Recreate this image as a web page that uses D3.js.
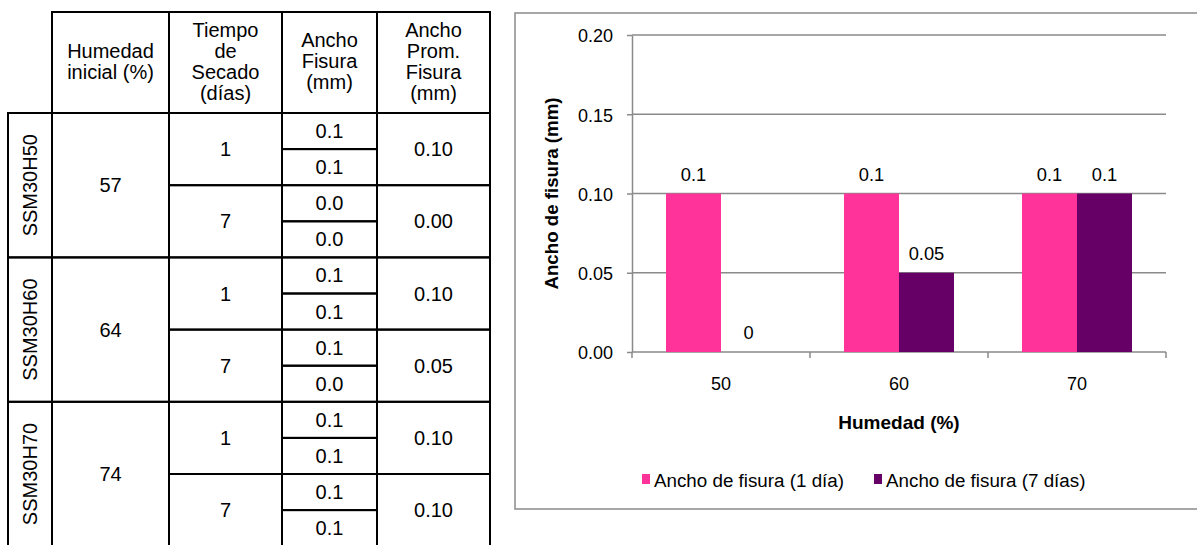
<!DOCTYPE html>
<html>
<head>
<meta charset="utf-8">
<script src="https://cdn.jsdelivr.net/npm/d3@7"></script>
<style>
  body { margin: 0; background: #fff; }
  svg { display: block; font-family: "Liberation Sans", Arial, sans-serif; }
</style>
</head>
<body>
<div class="layout"></div>
<script>
// ---- table data ----
var muestras = ["SSM30H50", "SSM30H60", "SSM30H70"];
var humedadInicial = ["57", "64", "74"];
var tiempoSecado = ["1", "7"];
var anchoFisura = [
  ["0.1", "0.1", "0.0", "0.0"],
  ["0.1", "0.1", "0.1", "0.0"],
  ["0.1", "0.1", "0.1", "0.1"]
];
var anchoProm = [
  ["0.10", "0.00"],
  ["0.10", "0.05"],
  ["0.10", "0.10"]
];
var encabezados = [
  ["Humedad", "inicial (%)"],
  ["Tiempo", "de", "Secado", "(días)"],
  ["Ancho", "Fisura", "(mm)"],
  ["Ancho", "Prom.", "Fisura", "(mm)"]
];

// ---- chart data ----
var humedad = ["50", "60", "70"];
var series = ["Ancho de fisura (1 día)", "Ancho de fisura (7 días)"];
var ancho1dia = [0.1, 0.1, 0.1];
var ancho7dias = [0, 0.05, 0.1];
var yTicks = [0, 0.05, 0.10, 0.15, 0.20];

var colors = ["#ff3399", "#660066"];

var svg = d3.select(".layout").append("svg")
    .attr("width", 1197)
    .attr("height", 545);

// ================= TABLE =================
var colX = [8, 52, 169, 282, 377, 490];
var headTop = 12, bodyTop = 113, rowH = 36.1;
var row = d3.scaleLinear().domain([0, 1]).range([bodyTop, bodyTop + rowH]);
var tfs = 20;

var table = svg.append("g").attr("class", "table");

function cell(c0, c1, r0, r1) {
  table.append("rect")
      .attr("x", colX[c0]).attr("y", r0)
      .attr("width", colX[c1] - colX[c0]).attr("height", r1 - r0)
      .attr("fill", "none").attr("stroke", "#000").attr("stroke-width", 2);
}
function label(txt, c, r0, r1) {
  table.append("text")
      .attr("x", (colX[c] + colX[c + 1]) / 2)
      .attr("y", (r0 + r1) / 2 + 7)
      .attr("text-anchor", "middle")
      .attr("font-size", tfs)
      .text(txt);
}

// header
encabezados.forEach(function(lines, i) {
  var c = i + 1;
  cell(c, c + 1, headTop, bodyTop);
  var lh = 21, mid = 61;
  var t = table.append("text")
      .attr("text-anchor", "middle")
      .attr("font-size", tfs);
  lines.forEach(function(s, j) {
    t.append("tspan")
        .attr("x", (colX[c] + colX[c + 1]) / 2)
        .attr("y", mid + (j - (lines.length - 1) / 2) * lh + 7)
        .text(s);
  });
});

// body
muestras.forEach(function(m, b) {
  var r0 = row(b * 4), r1 = row(b * 4 + 4);
  cell(0, 1, r0, r1);
  cell(1, 2, r0, r1);
  table.append("text")
      .attr("transform", "translate(" + (colX[0] + colX[1]) / 2 + "," + (r0 + r1) / 2 + ") rotate(-90)")
      .attr("text-anchor", "middle")
      .attr("dy", "0.36em")
      .attr("font-size", tfs)
      .text(m);
  label(humedadInicial[b], 1, r0, r1);

  tiempoSecado.forEach(function(t, k) {
    var s0 = row(b * 4 + k * 2), s1 = row(b * 4 + k * 2 + 2);
    cell(2, 3, s0, s1);
    cell(4, 5, s0, s1);
    label(t, 2, s0, s1);
    label(anchoProm[b][k], 4, s0, s1);
  });

  anchoFisura[b].forEach(function(v, k) {
    var q0 = row(b * 4 + k), q1 = row(b * 4 + k + 1);
    cell(3, 4, q0, q1);
    label(v, 3, q0, q1);
  });
});

// ================= CHART =================
var grey = "#8a8a8a";
svg.append("rect")
    .attr("x", 515).attr("y", 13)
    .attr("width", 700).attr("height", 496)
    .attr("fill", "none").attr("stroke", grey).attr("stroke-width", 1.5);

var margin = {left: 632, top: 35},
    width = 534,
    height = 317;

var g = svg.append("g")
    .attr("transform", "translate(" + margin.left + "," + margin.top + ")");

var x0 = d3.scaleBand().domain(humedad).range([0, width]).padding(0);
var x1 = d3.scaleBand().domain(series).range([0, x0.bandwidth()])
    .paddingInner(0).paddingOuter(0.618);
var y = d3.scaleLinear().domain([0, 0.2]).range([height, 0]);

// gridlines
g.append("g").selectAll("line")
    .data(yTicks)
    .join("line")
    .attr("x1", 0).attr("x2", width)
    .attr("y1", function(d) { return y(d); })
    .attr("y2", function(d) { return y(d); })
    .attr("stroke", grey).attr("stroke-width", 1.5);

// y axis
var yAxis = d3.axisLeft(y)
    .tickValues(yTicks)
    .tickFormat(d3.format(".2f"))
    .tickSizeInner(5)
    .tickSizeOuter(0)
    .tickPadding(14);
var ya = g.append("g").attr("class", "y axis").call(yAxis);
ya.select(".domain").attr("stroke", grey).attr("stroke-width", 1.5);
ya.selectAll(".tick line").attr("stroke", grey).attr("stroke-width", 1.5);
ya.selectAll(".tick text")
    .attr("font-size", 18)
    .attr("font-family", "Liberation Sans, Arial, sans-serif")
    .attr("fill", "#000")
    .attr("dy", "0.38em");

// x axis: labels at centres, ticks at category boundaries
var xAxis = d3.axisBottom(x0).tickSize(0).tickPadding(25);
var xa = g.append("g")
    .attr("class", "x axis")
    .attr("transform", "translate(0," + height + ")")
    .call(xAxis);
xa.select(".domain").remove();
xa.selectAll(".tick text")
    .attr("font-size", 18)
    .attr("font-family", "Liberation Sans, Arial, sans-serif")
    .attr("fill", "#000");

var bounds = humedad.map(function(d) { return x0(d); }).concat([width]);
g.append("g").selectAll("line")
    .data(bounds)
    .join("line")
    .attr("x1", function(d) { return d; }).attr("x2", function(d) { return d; })
    .attr("y1", height).attr("y2", height + 6)
    .attr("stroke", grey).attr("stroke-width", 1.5);

// bars
var rows = humedad.map(function(h, i) {
  return {cat: h, vals: [ancho1dia[i], ancho7dias[i]]};
});

var groups = g.append("g").selectAll("g")
    .data(rows)
    .join("g")
    .attr("transform", function(d) { return "translate(" + x0(d.cat) + ",0)"; });

groups.selectAll("rect")
    .data(function(d) { return d.vals.map(function(v, k) { return {s: series[k], v: v, k: k}; }); })
    .join("rect")
    .attr("x", function(d) { return x1(d.s); })
    .attr("y", function(d) { return y(d.v); })
    .attr("width", x1.bandwidth())
    .attr("height", function(d) { return height - y(d.v); })
    .attr("fill", function(d) { return colors[d.k]; });

groups.selectAll("text")
    .data(function(d) { return d.vals.map(function(v, k) { return {s: series[k], v: v}; }); })
    .join("text")
    .attr("x", function(d) { return x1(d.s) + x1.bandwidth() / 2; })
    .attr("y", function(d) { return y(d.v) - 13; })
    .attr("text-anchor", "middle")
    .attr("font-size", 18.3)
    .text(function(d) { return String(d.v); });

// axis titles
svg.append("text")
    .attr("transform", "translate(551," + (margin.top + height / 2) + ") rotate(-90)")
    .attr("text-anchor", "middle")
    .attr("dy", "0.36em")
    .attr("font-size", 18.7)
    .attr("font-weight", "bold")
    .text("Ancho de fisura (mm)");

svg.append("text")
    .attr("x", margin.left + width / 2)
    .attr("y", 429)
    .attr("text-anchor", "middle")
    .attr("font-size", 19)
    .attr("font-weight", "bold")
    .text("Humedad (%)");

// legend
var lx = 642;
series.forEach(function(s, k) {
  svg.append("rect")
      .attr("x", lx).attr("y", 474)
      .attr("width", 8).attr("height", 10)
      .attr("fill", colors[k]);
  var t = svg.append("text")
      .attr("x", lx + 12)
      .attr("y", 487)
      .attr("font-size", 18.8)
      .text(s);
  lx += 12 + t.node().getComputedTextLength() + 30;
});
</script>
</body>
</html>
